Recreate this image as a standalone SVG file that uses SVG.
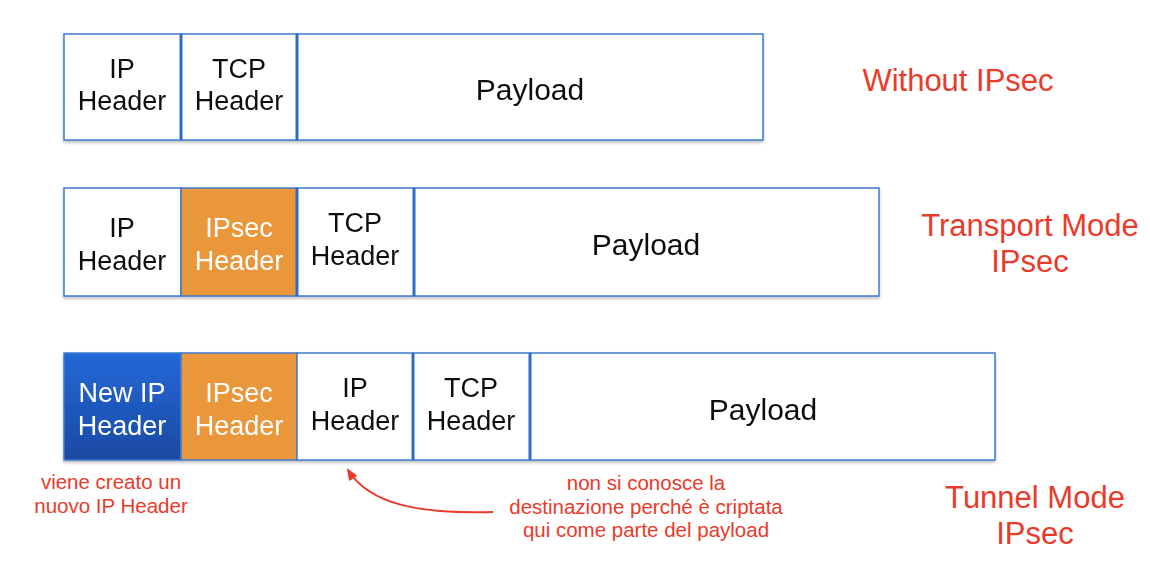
<svg xmlns="http://www.w3.org/2000/svg" width="1150" height="564" viewBox="0 0 1150 564">
<style>
.cell{fill:#ffffff;stroke:#3f7bcc;stroke-width:1.5}
.ipsec{fill:#ea963a;stroke:#3f7bcc;stroke-width:1.5}
.newip{fill:url(#blueg);stroke:#3f7bcc;stroke-width:1.5}
.div{stroke:#2f6cc2;stroke-width:3}
.t{font-family:"Liberation Sans",Arial,Helvetica,sans-serif;font-size:27px;fill:#111111;text-anchor:middle}
.w{fill:#ffffff}
.p{font-size:30px}
.red{font-family:"Liberation Sans",Arial,Helvetica,sans-serif;font-size:31px;fill:#ea3a2a;text-anchor:middle}
.note{font-family:"Liberation Sans",Arial,Helvetica,sans-serif;font-size:20.5px;fill:#ea3a2a;text-anchor:middle}
</style>
<defs>
<linearGradient id="blueg" x1="0" y1="0" x2="0" y2="1">
<stop offset="0" stop-color="#2468d8"/>
<stop offset="1" stop-color="#1a4aa2"/>
</linearGradient>
<filter id="sh" x="-5%" y="-10%" width="110%" height="130%">
<feDropShadow dx="0" dy="2" stdDeviation="1.5" flood-color="#000" flood-opacity="0.25"/>
</filter>
<marker id="ah" viewBox="0 0 12 10" refX="10" refY="5" markerWidth="12" markerHeight="10" markerUnits="userSpaceOnUse" orient="auto">
<path d="M0,0 L12,5 L0,10 z" fill="#ea3a2a"/>
</marker>
</defs>
<rect width="1150" height="564" fill="#ffffff"/>

<!-- Row 1 -->
<g id="row1" filter="url(#sh)">
<g id="r1-ip"><rect class="cell" x="64" y="34" width="117" height="106"/><text class="t" x="122" y="78">IP</text><text class="t" x="122" y="110">Header</text></g>
<g id="r1-tcp"><rect class="cell" x="181" y="34" width="116" height="106"/><text class="t" x="239" y="78">TCP</text><text class="t" x="239" y="110">Header</text></g>
<g id="r1-payload"><rect class="cell" x="297" y="34" width="466" height="106"/><text class="t p" x="530" y="100">Payload</text></g>
<line class="div" x1="181" y1="34" x2="181" y2="140"/>
<line class="div" x1="297" y1="34" x2="297" y2="140"/>
</g>
<g id="label1"><text class="red" x="958" y="91">Without IPsec</text></g>

<!-- Row 2 -->
<g id="row2" filter="url(#sh)">
<g id="r2-ip"><rect class="cell" x="64" y="188" width="117" height="108"/><text class="t" x="122" y="237">IP</text><text class="t" x="122" y="270">Header</text></g>
<g id="r2-ipsec"><rect class="ipsec" x="181" y="188" width="116" height="108"/><text class="t w" x="239" y="237">IPsec</text><text class="t w" x="239" y="270">Header</text></g>
<g id="r2-tcp"><rect class="cell" x="297" y="188" width="117" height="108"/><text class="t" x="355" y="232">TCP</text><text class="t" x="355" y="265">Header</text></g>
<g id="r2-payload"><rect class="cell" x="414" y="188" width="465" height="108"/><text class="t p" x="646" y="255">Payload</text></g>
<line class="div" x1="297" y1="188" x2="297" y2="296"/>
<line class="div" x1="414" y1="188" x2="414" y2="296"/>
</g>
<g id="label2"><text class="red" x="1030" y="236">Transport Mode</text><text class="red" x="1030" y="272">IPsec</text></g>

<!-- Row 3 -->
<g id="row3" filter="url(#sh)">
<g id="r3-newip"><rect class="newip" x="64" y="353" width="117" height="107"/><text class="t w" x="122" y="402">New IP</text><text class="t w" x="122" y="435">Header</text></g>
<g id="r3-ipsec"><rect class="ipsec" x="181" y="353" width="116" height="107"/><text class="t w" x="239" y="402">IPsec</text><text class="t w" x="239" y="435">Header</text></g>
<g id="r3-ip"><rect class="cell" x="297" y="353" width="116" height="107"/><text class="t" x="355" y="397">IP</text><text class="t" x="355" y="430">Header</text></g>
<g id="r3-tcp"><rect class="cell" x="413" y="353" width="117" height="107"/><text class="t" x="471" y="397">TCP</text><text class="t" x="471" y="430">Header</text></g>
<g id="r3-payload"><rect class="cell" x="530" y="353" width="465" height="107"/><text class="t p" x="763" y="420">Payload</text></g>
<line class="div" x1="413" y1="353" x2="413" y2="460"/>
<line class="div" x1="530" y1="353" x2="530" y2="460"/>
</g>
<g id="label3"><text class="red" x="1035" y="508">Tunnel Mode</text><text class="red" x="1035" y="544">IPsec</text></g>

<g id="note1"><text class="note" x="111" y="489">viene creato un</text><text class="note" x="111" y="513">nuovo IP Header</text></g>
<g id="note2"><text class="note" x="646" y="490">non si conosce la</text><text class="note" x="646" y="514">destinazione perché è criptata</text><text class="note" x="646" y="537">qui come parte del payload</text></g>

<g id="connectors">
<path d="M493,512 C420,514 370,505 348,470" fill="none" stroke="#ea3a2a" stroke-width="2" marker-end="url(#ah)"/>
</g>
</svg>
